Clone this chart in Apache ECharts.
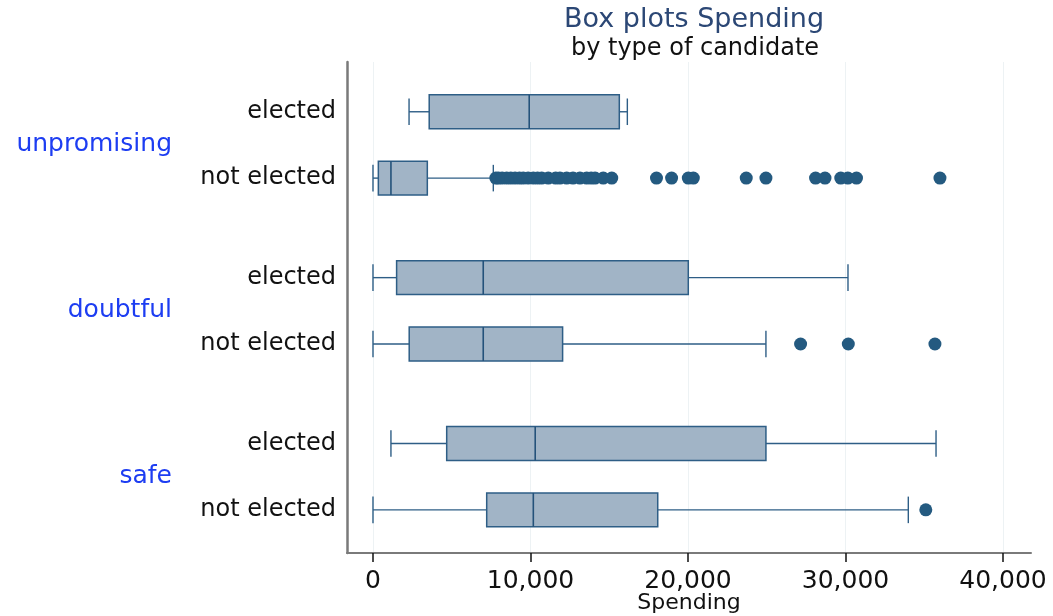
<!DOCTYPE html>
<html>
<head>
<meta charset="utf-8">
<script src="https://cdn.jsdelivr.net/npm/echarts@6/dist/echarts.min.js"></script>
<style>
html,body{margin:0;padding:0;background:#fff;}
#chart{width:1053px;height:616px;}
</style>
</head>
<body>
<div id="chart"></div>
<script>
// ---- data ----
const groups = ['unpromising', 'doubtful', 'safe'];
const rowLabels = ['elected', 'not elected'];
const xTicks = [0, 10000, 20000, 30000, 40000];

// box stats per group/row: [lower whisker, Q1, median, Q3, upper whisker]
const unpromisingElected    = [2290, 3570, 9920, 15640, 16150];
const unpromisingNotElected = [0, 340, 1140, 3450, 7640];
const doubtfulElected       = [0, 1500, 7000, 20020, 30160];
const doubtfulNotElected    = [0, 2300, 7000, 12040, 24950];
const safeElected           = [1140, 4680, 10300, 24950, 35750];
const safeNotElected        = [0, 7220, 10180, 18080, 33990];

// outliers
const unpromisingNotElectedOut = [7800, 7960, 8200, 8490, 8750, 9020, 9300, 9540, 9850, 10180, 10450, 10710, 11130, 11600, 11870, 12300, 12700, 13140, 13570, 13850, 14100, 14620, 15160,
  18000, 18960, 20020, 20340, 23700, 24950, 28100, 28700, 29700, 30150, 30700, 36000];
const unpromisingElectedOut = [];
const doubtfulElectedOut = [];
const doubtfulNotElectedOut = [27150, 30180, 35680];
const safeElectedOut = [];
const safeNotElectedOut = [35100];

const boxes = [
  [unpromisingElected, unpromisingNotElected],
  [doubtfulElected, doubtfulNotElected],
  [safeElected, safeNotElected]
];
const outliers = [
  [unpromisingElectedOut, unpromisingNotElectedOut],
  [doubtfulElectedOut, doubtfulNotElectedOut],
  [safeElectedOut, safeNotElectedOut]
];

// ---- layout of rows on the band axis ----
const GROUP_STEP = 5, ROW_STEP = 2;
const rowPos = (g, r) => g * GROUP_STEP + r * ROW_STEP;
const groupPos = g => g * GROUP_STEP + ROW_STEP / 2;

const boxData = [];
const outData = [];
boxes.forEach((grp, g) => grp.forEach((b, r) => {
  boxData.push([rowPos(g, r)].concat(b));
  outliers[g][r].forEach(v => outData.push([v, rowPos(g, r)]));
}));

const rowLabelAt = {};
groups.forEach((gname, g) => rowLabels.forEach((rl, r) => { rowLabelAt[rowPos(g, r)] = rl; }));
const groupLabelAt = {};
groups.forEach((gname, g) => { groupLabelAt[groupPos(g)] = gname; });

const STROKE = '#2e5e86';
const FILL = '#a1b4c6';
const FONT = 'DejaVu Sans';

function renderBox(params, api) {
  const pos = api.value(0);
  const lo = api.value(1), q1 = api.value(2), med = api.value(3), q3 = api.value(4), hi = api.value(5);
  const unit = api.size([0, 1])[1];
  const bh = unit * 0.51;
  const ch = unit * 0.40;
  const pLo = api.coord([lo, pos]);
  const pQ1 = api.coord([q1, pos]);
  const pMed = api.coord([med, pos]);
  const pQ3 = api.coord([q3, pos]);
  const pHi = api.coord([hi, pos]);
  const y = pQ1[1];
  const lineStyle = { stroke: STROKE, lineWidth: 1.4, fill: null };
  return {
    type: 'group',
    children: [
      { type: 'line', shape: { x1: pLo[0], y1: y, x2: pQ1[0], y2: y }, style: lineStyle },
      { type: 'line', shape: { x1: pQ3[0], y1: y, x2: pHi[0], y2: y }, style: lineStyle },
      { type: 'line', shape: { x1: pLo[0], y1: y - ch, x2: pLo[0], y2: y + ch }, style: lineStyle },
      { type: 'line', shape: { x1: pHi[0], y1: y - ch, x2: pHi[0], y2: y + ch }, style: lineStyle },
      { type: 'rect', shape: { x: pQ1[0], y: y - bh, width: pQ3[0] - pQ1[0], height: 2 * bh },
        style: { fill: FILL, stroke: STROKE, lineWidth: 1.5 } },
      { type: 'line', shape: { x1: pMed[0], y1: y - bh, x2: pMed[0], y2: y + bh }, style: { stroke: '#24527a', lineWidth: 1.6 } }
    ]
  };
}

const yMin = -1.5, yMax = 13.3;

const chart = echarts.init(document.getElementById('chart'), null, { renderer: 'canvas' });
chart.setOption({
  animation: false,
  backgroundColor: '#ffffff',
  title: [
    { text: 'Box plots Spending', left: 689, top: 1, textAlign: 'center',
      textStyle: { fontFamily: FONT, fontSize: 27, fontWeight: 'normal', color: '#2b4775' } },
    { text: 'by type of candidate', left: 690, top: 32, textAlign: 'center',
      textStyle: { fontFamily: FONT, fontSize: 24, fontWeight: 'normal', color: '#111111' } }
  ],
  grid: { left: 347, right: 22, top: 62, bottom: 63, containLabel: false, outerBoundsMode: 'none' },
  xAxis: {
    type: 'value',
    min: -1650, max: 41780,
    name: 'Spending',
    nameLocation: 'middle',
    nameGap: 50,
    nameMoveOverlap: false,
    nameTextStyle: { fontFamily: FONT, fontSize: 22, color: '#111', verticalAlign: 'middle' },
    axisLine: { show: true, onZero: false, lineStyle: { color: '#7a7a7a', width: 2 } },
    axisTick: { show: true, length: 9, customValues: xTicks, lineStyle: { color: '#111', width: 1.5 } },
    axisLabel: { customValues: xTicks, margin: 16, fontFamily: FONT, fontSize: 25, color: '#111',
      formatter: v => v.toLocaleString('en-US') },
    splitLine: { show: true, lineStyle: { color: '#edf2f4', width: 1 } }
  },
  yAxis: [
    {
      type: 'value', min: yMin, max: yMax, interval: 0.5, inverse: true,
      axisLine: { show: true, onZero: false, lineStyle: { color: '#7a7a7a', width: 2.5 } },
      axisTick: { show: false },
      splitLine: { show: false },
      axisLabel: { margin: 11, fontFamily: FONT, fontSize: 24, color: '#111',
        showMinLabel: true, showMaxLabel: true,
        formatter: v => rowLabelAt[v] || '' }
    },
    {
      type: 'value', min: yMin, max: yMax, interval: 0.5, inverse: true, position: 'left', offset: 175,
      axisLine: { show: false }, axisTick: { show: false }, splitLine: { show: false },
      axisLabel: { margin: 0, fontFamily: FONT, fontSize: 25, color: '#1d3df2',
        formatter: v => groupLabelAt[v] || '' }
    }
  ],
  series: [
    {
      type: 'custom',
      renderItem: renderBox,
      data: boxData,
      encode: { x: [1, 2, 3, 4, 5], y: 0 },
      yAxisIndex: 0,
      z: 3
    },
    {
      type: 'scatter',
      data: outData,
      yAxisIndex: 0,
      symbol: 'circle',
      symbolSize: 13,
      itemStyle: { color: '#245a80', opacity: 1 },
      z: 4
    }
  ]
});
</script>
</body>
</html>
